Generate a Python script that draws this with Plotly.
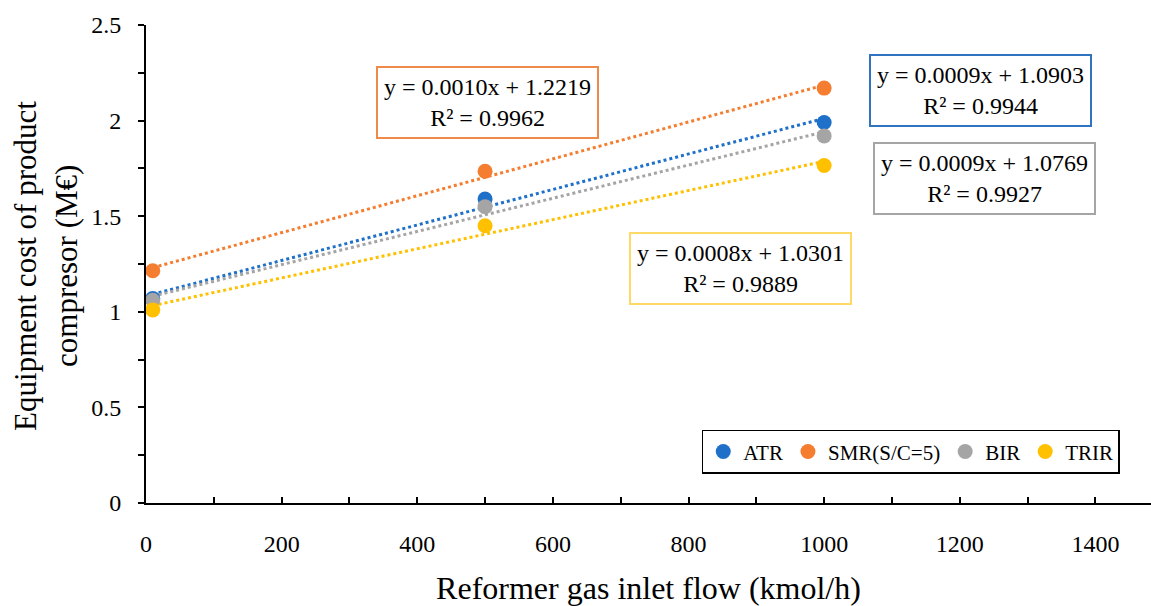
import numpy as np
import plotly.graph_objects as go

flow = [10, 500, 1000]
series_names = ["ATR", "SMR(S/C=5)", "BIR", "TRIR"]
atr = [1.07, 1.59, 1.99]
smr = [1.215, 1.735, 2.17]
bir = [1.06, 1.55, 1.92]
trir = [1.01, 1.45, 1.765]
colors = ["#1F70C8", "#F47D30", "#A5A5A5", "#FFC000"]
box_colors = ["#2E74C0", "#F08A4B", "#A5A5A5", "#FFD966"]
eq_texts = [
    "y = 0.0009x + 1.0903<br>R² = 0.9944",
    "y = 0.0010x + 1.2219<br>R² = 0.9962",
    "y = 0.0009x + 1.0769<br>R² = 0.9927",
    "y = 0.0008x + 1.0301<br>R² = 0.9889",
]
eq_pos = [(1230, 2.155), (504, 2.097), (1237, 1.695), (876, 1.229)]
y_title_lines = ["Equipment cost of product", "compresor (M€)"]
x_title = "Reformer gas inlet flow (kmol/h)"

FONT = "Liberation Serif"
fig = go.Figure()
all_series = [atr, smr, bir, trir]
for name, ys, c in zip(series_names, all_series, colors):
    m, b = np.polyfit(flow, ys, 1)
    xs = np.array([flow[0], flow[-1]])
    fig.add_trace(go.Scatter(x=xs, y=m * xs + b, mode="lines",
                             line=dict(color=c, width=3, dash="dot"),
                             showlegend=False, hoverinfo="skip"))
for name, ys, c in zip(series_names, all_series, colors):
    fig.add_trace(go.Scatter(x=flow, y=ys, mode="markers", name=name,
                             marker=dict(color=c, size=15)))

for txt, (ax, ay), bc in zip(eq_texts, eq_pos, box_colors):
    fig.add_annotation(x=ax, y=ay, xref="x", yref="y", text=txt, showarrow=False,
                       font=dict(family=FONT, size=24, color="black"),
                       bordercolor=bc, borderwidth=2, borderpad=6, bgcolor="white",
                       align="center")

# y-axis title as two rotated lines
for line, px in zip(y_title_lines, [-0.1194, -0.0786]):
    fig.add_annotation(x=px, y=0.496, xref="paper", yref="paper", text=line,
                       showarrow=False, textangle=-90, xanchor="center", yanchor="middle",
                       font=dict(family=FONT, size=31, color="black"))

fig.update_layout(
    width=1151, height=606,
    margin=dict(l=146, r=0, t=25, b=103),
    plot_bgcolor="white", paper_bgcolor="white",
    font=dict(family=FONT, size=24, color="black"),
    legend=dict(orientation="h", x=0.553, y=0.153, xanchor="left", yanchor="top",
                bordercolor="black", borderwidth=1.5, bgcolor="white",
                font=dict(family=FONT, size=21, color="black"), itemwidth=30,
                tracegroupgap=0),
    xaxis=dict(range=[0, 1482], dtick=200, tick0=0, showgrid=False, zeroline=False,
               showline=True, linecolor="black", linewidth=2,
               ticks="inside", ticklen=6, tickcolor="black", tickwidth=1.5,
               ticklabelstandoff=18,
               minor=dict(dtick=100, ticks="inside", ticklen=6, tickcolor="black", tickwidth=1.5),
               tickfont=dict(family=FONT, size=24, color="black"),
               title=dict(text=x_title,
                          font=dict(family=FONT, size=32, color="black"), standoff=22)),
    yaxis=dict(range=[0, 2.5], dtick=0.5, showgrid=False, zeroline=False,
               showline=True, linecolor="black", linewidth=2,
               ticks="outside", ticklen=6, tickcolor="black", tickwidth=1.5,
               ticklabelstandoff=12,
               minor=dict(dtick=0.25, ticks="outside", ticklen=6, tickcolor="black", tickwidth=1.5),
               tickfont=dict(family=FONT, size=24, color="black")),
)
fig.write_html("out.html", config={"displayModeBar": False},
               post_script="document.body.style.margin='0';document.body.style.overflow='hidden';")
